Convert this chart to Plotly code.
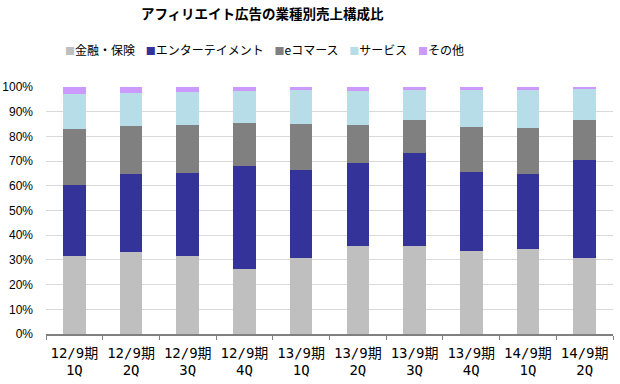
import plotly.graph_objects as go

periods = ["12/9期", "12/9期", "12/9期", "12/9期", "13/9期",
           "13/9期", "13/9期", "13/9期", "14/9期", "14/9期"]
quarters = ["1Q", "2Q", "3Q", "4Q", "1Q", "2Q", "3Q", "4Q", "1Q", "2Q"]
categories = [p + " " + q for p, q in zip(periods, quarters)]

finance = [31.6, 33.0, 31.6, 26.3, 30.8, 35.6, 35.7, 33.7, 34.5, 30.8]
entertainment = [28.8, 31.6, 33.4, 41.8, 35.4, 33.6, 37.6, 31.9, 30.3, 39.5]
ecommerce = [22.6, 19.5, 19.7, 17.3, 18.7, 15.5, 13.2, 18.1, 18.6, 16.2]
service = [14.3, 13.5, 13.3, 13.1, 14.0, 13.8, 12.4, 15.2, 15.5, 12.8]
other = [2.7, 2.4, 2.0, 1.5, 1.1, 1.5, 1.1, 1.1, 1.1, 0.7]

series_names = ["金融・保険", "エンターテイメント", "eコマース", "サービス", "その他"]
series_values = [finance, entertainment, ecommerce, service, other]
colors = ["#BFBFBF", "#333399", "#808080", "#B7DEE8", "#CC99FF"]

jp = "Noto Sans CJK JP"
mono = "DejaVu Sans Mono, Noto Sans CJK JP"

fig = go.Figure()
for name, vals, col in zip(series_names, series_values, colors):
    fig.add_trace(go.Bar(x=categories, y=vals, name=name, marker_color=col,
                         marker_line_width=0, showlegend=False))

# invisible helper trace so the second (quarter) label row is drawn
fig.add_trace(go.Scatter(x=quarters, y=[None] * len(quarters), xaxis="x2", yaxis="y",
                         mode="markers", showlegend=False, hoverinfo="skip"))

# compact legend built from the series names and colours
legend_text = "    ".join(
    f"<span style='color:{c};font-size:10px'>■</span>{n}"
    for n, c in zip(series_names, colors)
)

fig.update_layout(
    barmode="stack",
    bargap=0.6,
    width=620, height=384,
    margin=dict(l=46, r=7, t=87, b=50),
    paper_bgcolor="white",
    plot_bgcolor="white",
    font=dict(family="Liberation Sans, " + jp, color="#000000", size=12),
    title=dict(text="<b>アフィリエイト広告の業種別売上構成比</b>",
               xref="container", x=0.423, xanchor="center",
               yref="container", y=0.962, yanchor="middle",
               font=dict(size=13.5, family=jp, color="#000000")),
    annotations=[dict(text=legend_text, xref="paper", yref="paper",
                      x=0.386, y=1.15, xanchor="center", yanchor="middle",
                      showarrow=False, font=dict(size=12, family=jp, color="#000000"))],
    xaxis2=dict(overlaying="x", anchor="y", side="bottom",
                type="linear",
                range=[-0.5, len(quarters) - 0.5],
                tickmode="array", tickvals=list(range(len(quarters))),
                ticktext=quarters, showgrid=False, showline=False,
                zeroline=False, ticks="", automargin=False,
                ticklabelstandoff=26, fixedrange=True,
                tickfont=dict(size=14, family=mono)),
)
fig.update_yaxes(range=[0, 100], dtick=10, ticksuffix="%", showgrid=True,
                 gridcolor="#D9D9D9", gridwidth=1, zeroline=False,
                 showline=False, ticks="", tickfont=dict(size=12),
                 automargin=False, ticklabelstandoff=12,
                 fixedrange=True)
fig.update_layout(xaxis=dict(
    showline=True, linecolor="#808080", linewidth=2,
    ticks="outside", tickson="boundaries", ticklen=4,
    tickcolor="#808080", tickwidth=1,
    tickmode="array", tickvals=categories, ticktext=periods,
    tickfont=dict(size=14, family=mono), automargin=False,
    ticklabelstandoff=5, tickangle=0, fixedrange=True))

fig.write_html("out.html", config={"displayModeBar": False},
               post_script="document.body.style.margin='0';document.body.style.overflow='hidden';")
